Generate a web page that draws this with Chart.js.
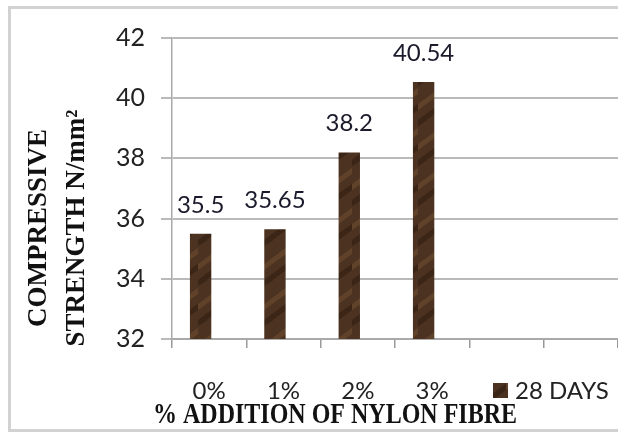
<!DOCTYPE html>
<html lang="en">
<head>
    <meta charset="UTF-8">
    <title>Compressive strength vs nylon fibre</title>
    <script src="https://cdn.jsdelivr.net/npm/chart.js"></script>
    <style>
        html, body { margin: 0; padding: 0; background: #fff; overflow: hidden; }
        #wrap { position: relative; width: 618px; height: 440px; overflow: hidden; }
        #frame { position: absolute; left: 8px; top: 6px; width: 640px; height: 420px; border: 3px solid #d2d2d2; }
        #myChart { position: absolute; left: 0; top: 0; }
    </style>
</head>
<body>
    <div id="wrap">
        <div id="frame"></div>
        <canvas id="myChart" width="618" height="440"></canvas>
    </div>
    <script>
    // data
    const categories = ['0%', '1%', '2%', '3%', '', ''];
    const strength28 = [35.5, 35.65, 38.2, 40.54, null, null];
    const emptySeries = [null, null, null, null, null, null];   // second (empty) slot in each group
    const yMin = 32, yMax = 42, yStep = 2;
    const seriesLabel = '28 DAYS';
    const xTitle = '% ADDITION OF NYLON FIBRE';
    const yTitle = ['COMPRESSIVE', 'STRENGTH N/mm\u00B2'];

    const ctx = document.getElementById('myChart').getContext('2d');

    // brownish mottled fill like the original bars
    function woodPattern() {
        const c = document.createElement('canvas');
        c.width = 22; c.height = 40;
        const g = c.getContext('2d');
        g.fillStyle = '#4c3220';
        g.fillRect(0, 0, 22, 40);
        g.lineWidth = 5;
        g.strokeStyle = 'rgba(112, 80, 50, 0.55)';
        g.beginPath(); g.moveTo(-4, 30); g.lineTo(26, 8); g.stroke();
        g.strokeStyle = 'rgba(46, 28, 16, 0.6)';
        g.beginPath(); g.moveTo(-4, 46); g.lineTo(26, 24); g.stroke();
        g.beginPath(); g.moveTo(-4, 6); g.lineTo(14, -6); g.stroke();
        return ctx.createPattern(c, 'repeat');
    }
    const barFill = woodPattern();

    // value labels, axis titles and the legend entry
    const extras = {
        id: 'extras',
        afterDatasetsDraw(chart) {
            const c = chart.ctx;
            c.save();
            c.font = '24px Lato';
            c.fillStyle = '#1a1a2c';
            c.textAlign = 'center';
            c.textBaseline = 'alphabetic';
            chart.getDatasetMeta(0).data.forEach((bar, i) => {
                if (strength28[i] == null) return;
                c.fillText(String(strength28[i]), bar.x, bar.y - 21);
            });

            c.fillStyle = '#111';
            c.textBaseline = 'middle';
            c.font = 'bold 24px "Liberation Serif"';
            c.save();
            c.translate(335, 415);
            c.scale(1, 1.25);   // the original title is drawn taller than wide
            c.fillText(xTitle, 0, 0);
            c.restore();

            c.font = 'bold 27px "Liberation Serif"';
            [39, 77].forEach((x, k) => {
                c.save();
                c.translate(x, 228);
                c.rotate(-Math.PI / 2);
                c.fillText(yTitle[k], 0, 0);
                c.restore();
            });

            // legend
            c.fillStyle = barFill;
            c.fillRect(493, 383, 15, 15);
            c.fillStyle = '#222';
            c.textAlign = 'left';
            c.font = '24px Lato';
            c.fillText(seriesLabel, 515, 391);
            c.restore();
        }
    };

    new Chart(ctx, {
        type: 'bar',
        data: {
            labels: categories,
            datasets: [{
                label: seriesLabel,
                data: strength28,
                backgroundColor: barFill,
                borderWidth: 0,
                categoryPercentage: 0.46,
                barPercentage: 1.25
            }, {
                label: '',
                data: emptySeries,
                backgroundColor: 'rgba(0,0,0,0)',
                categoryPercentage: 0.46,
                barPercentage: 1.25
            }]
        },
        options: {
            responsive: false,
            animation: false,
            layout: { padding: { top: 38, left: 0, right: 0, bottom: 0 } },
            scales: {
                y: {
                    min: yMin,
                    max: yMax,
                    afterFit: s => { s.width = 172; },
                    ticks: {
                        stepSize: yStep,
                        padding: 16,
                        color: '#222',
                        font: { family: 'Lato', size: 25 }
                    },
                    grid: { color: '#bababa', lineWidth: 2, tickLength: 11 },
                    border: { color: '#a9a9a9', width: 1.5 }
                },
                x: {
                    afterFit: s => { s.height = 101; },
                    ticks: {
                        padding: 29,
                        color: '#222',
                        font: { family: 'Lato', size: 24 }
                    },
                    grid: { drawOnChartArea: false, tickLength: 9, color: '#9a9a9a', lineWidth: 1.5 },
                    border: { color: '#a9a9a9', width: 2 }
                }
            },
            plugins: {
                legend: { display: false },
                tooltip: { enabled: false }
            }
        },
        plugins: [extras]
    });
    </script>
</body>
</html>
